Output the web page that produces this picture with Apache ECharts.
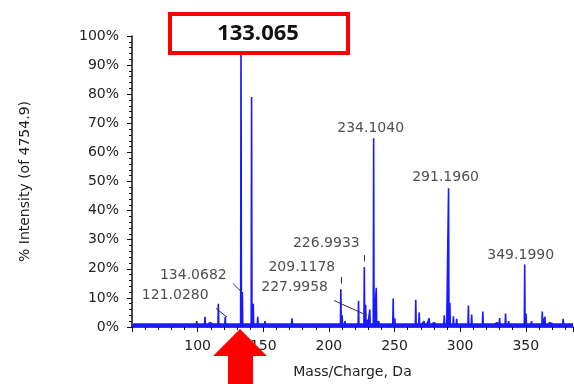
<!DOCTYPE html>
<html>
<head>
<meta charset="utf-8">
<script src="https://cdn.jsdelivr.net/npm/echarts@6/dist/echarts.min.js"></script>
<style>
  html, body { margin: 0; padding: 0; background: #fff; }
  #main { width: 574px; height: 384px; }
</style>
</head>
<body>
<div id="main"></div>
<script>
// 质谱峰 m/z 与相对强度 (%)
var peakMz = [52, 54.5, 57.4, 60, 63, 65.8, 68, 72.6, 76, 79, 82, 85, 88, 90.5, 93, 96, 99.3, 102, 105.6, 107.5,
  109.4, 112, 115.8, 118, 121.028, 123.5, 126, 128.5, 131, 133.065, 134.0682, 136, 138, 141.1, 142.4, 145.8, 148,
  151.3, 153.6, 156, 158, 160.2, 163, 166, 168.5, 171.9, 175, 178, 181, 184, 186.9, 190, 192, 194.5, 197, 200, 202,
  204.7, 207, 209.1178, 210.1, 212.3, 215, 218, 220, 222.6, 224, 226.9933, 227.9958, 229.5, 231.2, 234.104, 236.1,
  238, 240, 243, 246, 249, 250.2, 252, 255, 258, 261, 263.5, 266.2, 268.8, 270.5, 272.6, 274.5, 276.4, 278, 280,
  282.5, 285, 287.9, 289.5, 291.196, 292.2, 294.9, 297.4, 299.5, 302, 304, 306.3, 308.8, 311, 313.5, 317.3, 319,
  321.5, 324, 326.5, 328, 330.1, 332, 334.6, 336.9, 339, 341.5, 344, 346.5, 349.199, 350.2, 352, 354.4, 357, 359.5,
  362.6, 364.6, 366.5, 368.4, 371, 373.5, 376, 378.5, 381, 383.5];
var peakPct = [0.8, 1.2, 1.3, 0.7, 0.9, 1.0, 0.7, 1.5, 0.8, 0.9, 1.0, 0.8, 1.1, 0.9, 1.2, 1.0, 2.0, 1.3, 3.5, 1.2,
  1.5, 1.0, 8.0, 1.2, 3.5, 1.0, 1.5, 1.0, 0.8, 100, 12.0, 1.0, 0.8, 79, 8.0, 3.5, 1.2,
  2.0, 1.5, 1.0, 0.8, 1.3, 1.0, 0.8, 1.0, 3.0, 1.0, 1.5, 0.8, 1.0, 1.2, 0.8, 1.0, 1.2, 0.8, 1.0, 1.2,
  1.2, 1.0, 13.0, 4.0, 2.0, 1.0, 1.2, 1.5, 9.0, 1.5, 20.6, 7.6, 2.5, 6.0, 64.9, 13.5,
  2.0, 1.0, 1.2, 1.5, 9.8, 3.0, 1.0, 1.2, 0.8, 1.0, 1.5, 9.4, 5.0, 1.5, 2.0, 1.0, 3.0, 1.2, 1.5,
  1.0, 1.0, 4.0, 1.5, 47.7, 8.3, 3.7, 2.8, 1.2, 1.0, 1.2, 7.4, 4.3, 1.0, 1.2, 5.3, 1.5,
  1.0, 1.2, 1.0, 1.5, 3.1, 1.2, 4.6, 2.0, 1.0, 1.5, 0.8, 1.2, 21.5, 4.6, 1.0, 2.0, 1.0, 0.8,
  5.3, 3.5, 1.0, 1.5, 1.0, 1.5, 1.0, 2.8, 1.0, 1.5];
var baseLevel = 1.0;

// 标注的峰
var labelMz = [121.028, 134.0682, 209.1178, 226.9933, 227.9958, 234.104, 291.196, 349.199];
var labelPct = [3.5, 12.0, 13.0, 20.6, 7.6, 64.9, 47.7, 21.5];
var labelText = ['121.0280', '134.0682', '209.1178', '226.9933', '227.9958', '234.1040', '291.1960', '349.1990'];
var labelOffset = [[-50, -21], [-49, -17], [-39, -22], [-38, -24], [-71, -18], [-3, -10], [-3, -11], [-4, -9]];

// 引线 (数据坐标)
var leaders = [
  [[114, 6.4], [122.4, 3.4]],
  [[127, 14.9], [133.1, 12.2]],
  [[209.1, 17.2], [209.1, 14.9]],
  [[227, 24.7], [227, 22.6]],
  [[203.9, 9.1], [229, 4.0]]
];

var xTicks = { min: 50, max: 386, interval: 50 };
var yTicks = { min: 0, max: 100, interval: 10 };
var xName = 'Mass/Charge, Da';
var yName = '% Intensity (of 4754.9)';
var boxText = '133.065';

// 组装折线数据：每个峰画成一根细竖线
var lineData = [[xTicks.min, baseLevel]];
for (var i = 0; i < peakMz.length; i++) {
  lineData.push([peakMz[i] - 0.3, baseLevel]);
  lineData.push([peakMz[i], peakPct[i]]);
  lineData.push([peakMz[i] + 0.3, baseLevel]);
}
lineData.push([xTicks.max, baseLevel]);

var labelData = labelMz.map(function (m, i) {
  return {
    value: [m, labelPct[i]],
    label: { formatter: labelText[i], offset: labelOffset[i] }
  };
});

var font = 'DejaVu Sans';
var myChart = echarts.init(document.getElementById('main'));
var option = {
  animation: false,
  grid: { left: 132, top: 36, width: 441, height: 296 },
  xAxis: {
    type: 'value',
    min: xTicks.min, max: xTicks.max, interval: xTicks.interval,
    name: xName, nameLocation: 'middle', nameGap: 38,
    nameTextStyle: { color: '#222', fontFamily: font, fontSize: 14 },
    axisLine: { lineStyle: { color: '#111', width: 1.5 } },
    axisTick: { show: true, length: 5, lineStyle: { color: '#111' } },
    minorTick: { show: true, splitNumber: 5, length: 3, lineStyle: { color: '#111' } },
    splitLine: { show: false },
    axisLabel: { color: '#222', fontFamily: font, fontSize: 14, margin: 12, showMinLabel: false, showMaxLabel: false }
  },
  yAxis: {
    type: 'value',
    min: yTicks.min, max: yTicks.max, interval: yTicks.interval,
    name: yName, nameLocation: 'middle', nameGap: 100, nameRotate: 90,
    nameTextStyle: { color: '#222', fontFamily: font, fontSize: 14 },
    axisLine: { show: true, lineStyle: { color: '#111', width: 1.5 } },
    axisTick: { show: true, length: 5, lineStyle: { color: '#111' } },
    minorTick: { show: true, splitNumber: 5, length: 3, lineStyle: { color: '#111' } },
    splitLine: { show: false },
    axisLabel: { color: '#222', fontFamily: font, fontSize: 14, margin: 13, formatter: '{value}%' }
  },
  series: [
    {
      type: 'line',
      data: lineData,
      symbol: 'none',
      lineStyle: { color: '#1a1aff', width: 1.6 },
      areaStyle: { color: '#1a1aff', opacity: 1 },
      z: 3
    },
    {
      type: 'scatter',
      data: labelData,
      symbolSize: 1,
      itemStyle: { color: 'transparent' },
      label: { show: true, position: 'inside', color: '#222', fontFamily: font, fontSize: 14 },
      markLine: {
        silent: true,
        symbol: 'none',
        label: { show: false },
        lineStyle: { color: '#333', width: 1, type: 'solid' },
        data: leaders.map(function (p) {
          return [{ coord: p[0] }, { coord: p[1] }];
        })
      },
      z: 4
    }
  ],
  graphic: [
    {
      type: 'rect', z: 100,
      shape: { x: 170, y: 14, width: 178, height: 39 },
      style: { fill: '#fff', stroke: '#ff0000', lineWidth: 4 }
    },
    {
      type: 'text', z: 101, x: 258, y: 34,
      style: { text: boxText, fill: '#111', font: 'bold 22px "Open Sans"', align: 'center', verticalAlign: 'middle' }
    },
    {
      type: 'polygon', z: 100,
      shape: { points: [[240, 329], [267, 356], [253, 356], [253, 384], [228, 384], [228, 356], [213, 356]] },
      style: { fill: '#ff0000' }
    }
  ]
};
myChart.setOption(option);
</script>
</body>
</html>
